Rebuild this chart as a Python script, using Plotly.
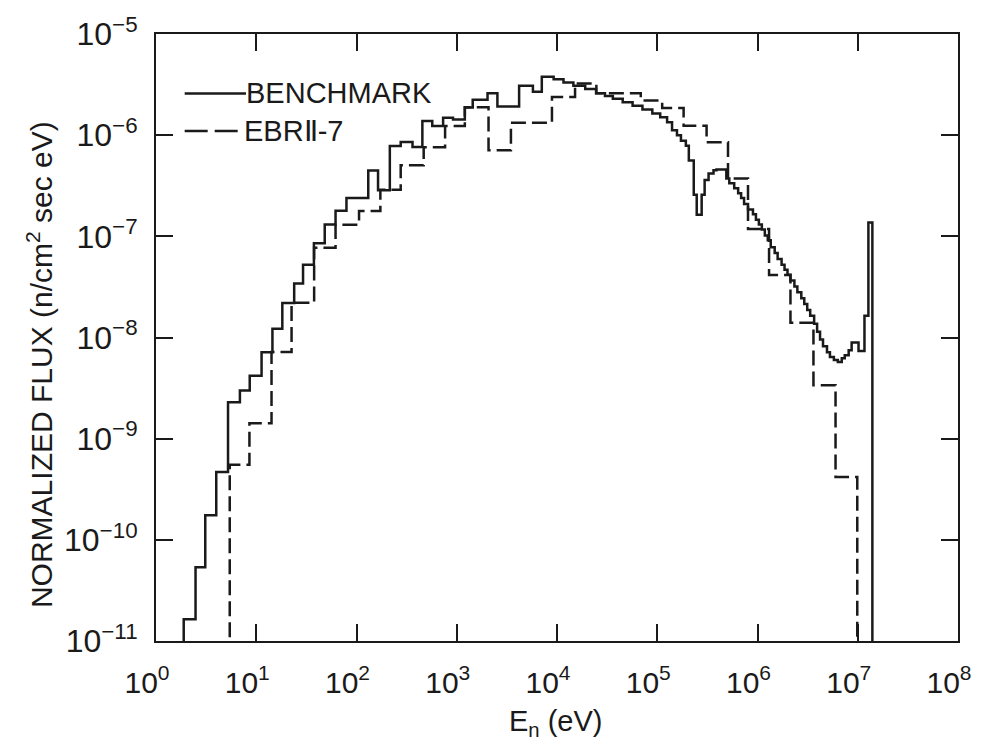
import plotly.graph_objects as go

# ---------------- data ----------------
# BENCHMARK: group boundaries (eV) and flux per group (n/cm^2 sec eV)
bench_edges = [1.89, 2.48, 3.10, 3.99, 5.23, 6.87, 8.61, 11.3, 14.5, 18.2,
               23.9, 29.3, 37.6, 48.2, 61.8, 79.4, 131, 164, 215, 276,
               362, 454, 570, 731, 918, 1204, 1443, 2028, 2544, 4188,
               5752, 7053, 9258, 11614, 14570, 19120, 24540, 30090, 36060, 45240,
               56760, 71200, 89300, 1.070e5, 1.254e5, 1.405e5, 1.573e5, 1.723e5, 1.929e5, 2.065e5,
               2.313e5, 2.476e5, 2.773e5, 2.969e5, 3.250e5, 3.640e5, 3.896e5, 4.887e5, 5.232e5, 5.858e5,
               6.413e5, 6.866e5, 7.347e5, 8.043e5, 9.010e5, 9.645e5, 1.032e6, 1.105e6, 1.183e6, 1.266e6,
               1.355e6, 1.484e6, 1.588e6, 1.739e6, 1.861e6, 1.992e6, 2.132e6, 2.334e6, 2.498e6, 2.735e6,
               2.928e6, 3.134e6, 3.354e6, 3.673e6, 3.931e6, 4.207e6, 4.503e6, 4.932e6, 5.278e6, 5.780e6,
               6.329e6, 6.929e6, 7.418e6, 8.119e6, 8.690e6, 1.018e7, 1.167e7, 1.277e7, 1.399e7]
bench_flux = [1.64e-11, 5.35e-11, 1.75e-10, 4.68e-10, 2.29e-9, 2.99e-9, 4.18e-9, 7.15e-9, 1.22e-8, 2.19e-8,
              3.42e-8, 5.23e-8, 8.55e-8, 1.31e-7, 1.79e-7, 2.39e-7, 4.47e-7, 2.86e-7, 7.82e-7, 8.55e-7,
              7.64e-7, 1.38e-6, 1.23e-6, 1.49e-6, 1.43e-6, 1.88e-6, 2.24e-6, 2.60e-6, 1.92e-6, 3.08e-6,
              2.69e-6, 3.77e-6, 3.57e-6, 3.32e-6, 3.08e-6, 2.86e-6, 2.60e-6, 2.44e-6, 2.29e-6, 2.11e-6,
              1.95e-6, 1.79e-6, 1.64e-6, 1.50e-6, 1.34e-6, 1.12e-6, 1.00e-6, 8.80e-7, 7.87e-7, 5.62e-7,
              2.58e-7, 1.63e-7, 2.58e-7, 3.60e-7, 4.18e-7, 4.50e-7, 4.57e-7, 3.74e-7, 3.34e-7, 2.99e-7,
              2.67e-7, 2.39e-7, 2.09e-7, 1.84e-7, 1.65e-7, 1.46e-7, 1.31e-7, 1.17e-7, 1.02e-7, 9.14e-8,
              7.82e-8, 6.84e-8, 5.98e-8, 5.23e-8, 4.68e-8, 4.18e-8, 3.66e-8, 3.20e-8, 2.80e-8, 2.45e-8,
              2.14e-8, 1.87e-8, 1.64e-8, 1.37e-8, 1.14e-8, 9.57e-9, 8.18e-9, 7.15e-9, 6.40e-9, 5.98e-9,
              5.72e-9, 6.25e-9, 6.68e-9, 7.48e-9, 8.94e-9, 7.36e-9, 1.64e-8, 1.37e-7]

# EBR II-7
ebr_edges = [5.44, 8.55, 14.2, 22.5, 37.8, 61.8, 106, 173, 276, 468,
             765, 1204, 2075, 3471, 8907, 15140, 24700, 68480, 1.120e5, 1.832e5,
             3.105e5, 5.078e5, 8.04e5, 1.304e6, 2.132e6, 3.615e6, 6.004e6, 9.89e6]
ebr_flux = [5.51e-10, 1.42e-9, 7.20e-9, 2.20e-8, 7.69e-8, 1.30e-7, 1.78e-7, 2.88e-7, 5.03e-7, 7.60e-7,
            1.23e-6, 1.89e-6, 7.08e-7, 1.33e-6, 2.39e-6, 3.25e-6, 2.60e-6, 2.20e-6, 1.86e-6, 1.24e-6,
            8.49e-7, 3.74e-7, 1.18e-7, 4.15e-8, 1.40e-8, 3.37e-9, 4.18e-10]

floor_flux = 1e-12  # off-scale (zero) flux outside the groups

x_tickvals = [1e0, 1e1, 1e2, 1e3, 1e4, 1e5, 1e6, 1e7, 1e8]
x_ticktext = ["10<sup>%d</sup>" % k for k in range(0, 9)]
y_tickvals = [1e-11, 1e-10, 1e-9, 1e-8, 1e-7, 1e-6, 1e-5]
y_ticktext = ["10<sup>\u2212%d</sup>" % k for k in range(11, 4, -1)]

series_names = ["BENCHMARK", "EBR\u2161-7"]

FONT = "Liberation Sans, Arial, Helvetica, sans-serif"
INK = "#1a1a1a"
LW = 2.5


def step_xy(edges, vals):
    x = [edges[0]] + list(edges)
    y = [floor_flux] + list(vals) + [floor_flux]
    return x, y


fig = go.Figure()
bx, by = step_xy(bench_edges, bench_flux)
fig.add_trace(go.Scatter(x=bx, y=by, mode="lines", line_shape="hv",
                         line=dict(color=INK, width=LW), name=series_names[0],
                         showlegend=False))
ex, ey = step_xy(ebr_edges, ebr_flux)
fig.add_trace(go.Scatter(x=ex, y=ey, mode="lines", line_shape="hv",
                         line=dict(color=INK, width=LW, dash="15px,6px"),
                         name=series_names[1], showlegend=False))

axis_common = dict(type="log", showgrid=False, zeroline=False,
                   showline=True, linecolor=INK, linewidth=2,
                   ticks="inside", ticklen=17, tickwidth=2, tickcolor=INK,
                   mirror="ticks", ticklabeloverflow="allow")

fig.update_xaxes(range=[0, 8], tickvals=x_tickvals, ticktext=x_ticktext,
                 ticklabelstandoff=14, ticklabelshift=-9,
                 tickfont=dict(family=FONT, size=30, color=INK), **axis_common)
fig.update_yaxes(range=[-11, -5], tickvals=y_tickvals, ticktext=y_ticktext,
                 ticklabelstandoff=10,
                 tickfont=dict(family=FONT, size=32, color=INK), **axis_common)

# legend drawn by hand (sample lines + text), in paper coordinates
W, H = 984, 746
L, R, T, B = 156, 17, 28, 105
pw, ph = W - L - R, H - T - B


def px(xp):
    return (xp - L) / pw


def py(yp):
    return (H - B - yp) / ph


fig.add_shape(type="line", xref="paper", yref="paper",
              x0=px(185), x1=px(247), y0=py(88), y1=py(88),
              line=dict(color=INK, width=LW))
fig.add_shape(type="line", xref="paper", yref="paper",
              x0=px(185), x1=px(239), y0=py(126), y1=py(126),
              line=dict(color=INK, width=LW, dash="23px,7px"))
fig.add_annotation(xref="paper", yref="paper", x=px(245), y=py(88),
                   text=series_names[0], showarrow=False, xanchor="left",
                   yanchor="middle", font=dict(family=FONT, size=29, color=INK))
fig.add_annotation(xref="paper", yref="paper", x=px(243), y=py(126),
                   text=series_names[1], showarrow=False, xanchor="left",
                   yanchor="middle", font=dict(family=FONT, size=29, color=INK))

# axis titles
fig.add_annotation(xref="paper", yref="paper", x=px(38), y=py(362),
                   text="NORMALIZED FLUX (n/cm<sup>2</sup> sec eV)", textangle=-90,
                   showarrow=False, xanchor="center", yanchor="middle",
                   font=dict(family=FONT, size=30, color=INK))
fig.add_annotation(xref="paper", yref="paper", x=px(560), y=py(724),
                   text="E<sub>n</sub> (eV)", showarrow=False,
                   xanchor="center", yanchor="middle",
                   font=dict(family=FONT, size=29, color=INK))

fig.update_layout(width=W, height=H, margin=dict(l=L, r=R, t=T, b=B),
                  paper_bgcolor="white", plot_bgcolor="white",
                  font=dict(family=FONT, color=INK))

fig.write_html("out.html",
               config={"displayModeBar": False},
               post_script="document.body.style.margin='0';"
                           "document.body.style.overflow='hidden';")
